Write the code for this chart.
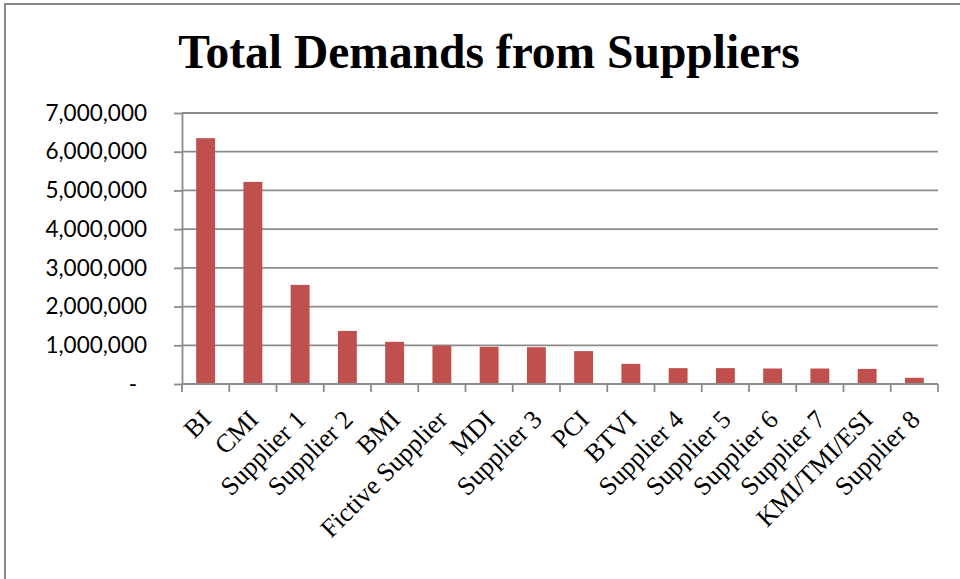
<!DOCTYPE html>
<html>
<head>
<meta charset="utf-8">
<script src="https://cdn.jsdelivr.net/npm/d3@7"></script>
<style>
  body { margin: 0; background: #fff; }
  svg { display: block; }
</style>
</head>
<body>
<div id="chart"></div>
<script>
const width = 960
const height = 579
const margins = { top: 113, right: 22, bottom: 195, left: 182 }

// DATA
const suppliers = [
  "BI", "CMI", "Supplier 1", "Supplier 2", "BMI", "Fictive Supplier", "MDI",
  "Supplier 3", "PCI", "BTVI", "Supplier 4", "Supplier 5", "Supplier 6",
  "Supplier 7", "KMI/TMI/ESI", "Supplier 8"
]
const demands = [
  6350000, 5220000, 2560000, 1370000, 1090000, 990000, 960000,
  950000, 850000, 520000, 410000, 410000, 400000,
  400000, 390000, 160000
]
const yTicks = [0, 1000000, 2000000, 3000000, 4000000, 5000000, 6000000, 7000000]
const titleText = "Total Demands from Suppliers"

const data = suppliers.map((s, i) => ({ name: s, value: demands[i] }))

const svg = d3
  .select("#chart")
  .append("svg")
  .attr("width", width)
  .attr("height", height)

// FRAME
svg.append("line")
  .attr("x1", 5).attr("x2", 5).attr("y1", 4).attr("y2", height)
  .attr("stroke", "#8a8a8a").attr("stroke-width", 2)
svg.append("line")
  .attr("x1", 4).attr("x2", width).attr("y1", 4).attr("y2", 4)
  .attr("stroke", "#8a8a8a").attr("stroke-width", 2)

// TITLE
svg.append("text")
  .attr("x", 489)
  .attr("y", 68)
  .attr("text-anchor", "middle")
  .style("font-family", "'Liberation Serif', 'Times New Roman', serif")
  .style("font-weight", "bold")
  .style("font-size", "47.5px")
  .text(titleText)

// SCALES
const xScale = d3
  .scaleBand()
  .domain(suppliers)
  .range([margins.left, width - margins.right])
  .paddingInner(0.6)
  .paddingOuter(0.3)

const yScale = d3
  .scaleLinear()
  .domain([0, 7000000])
  .range([height - margins.bottom, margins.top])

const axisY = height - margins.bottom

// GRID
svg.append("g")
  .selectAll("line")
  .data(yTicks.filter((d) => d > 0))
  .join("line")
  .attr("x1", margins.left)
  .attr("x2", width - margins.right)
  .attr("y1", (d) => yScale(d))
  .attr("y2", (d) => yScale(d))
  .attr("stroke", "#8c8c8c")
  .attr("stroke-width", 1.8)

// Y AXIS
const yAxisGenerator = d3
  .axisLeft(yScale)
  .tickValues(yTicks)
  .tickSizeInner(8)
  .tickSizeOuter(0)
  .tickPadding(27)
  .tickFormat((d) => (d === 0 ? "-" : d3.format(",")(d)))

const yAxis = svg.append("g")
  .attr("transform", `translate(${margins.left},0)`)
  .call(yAxisGenerator)
yAxis.select(".domain").attr("stroke", "#8c8c8c").attr("stroke-width", 1.8)
yAxis.selectAll(".tick line").attr("stroke", "#8c8c8c").attr("stroke-width", 1.8)
yAxis.selectAll(".tick text")
  .style("font-family", "Lato, 'Open Sans', sans-serif")
  .style("font-size", "22.5px")
  .attr("fill", "#000")
  .attr("dx", (d) => (d === 0 ? -10 : 0))

// BARS
svg.append("g")
  .selectAll("rect")
  .data(data)
  .join("rect")
  .attr("x", (d) => xScale(d.name))
  .attr("width", xScale.bandwidth())
  .attr("y", (d) => yScale(d.value))
  .attr("height", (d) => axisY - yScale(d.value))
  .attr("fill", "#C0504D")

// X AXIS
svg.append("line")
  .attr("x1", margins.left)
  .attr("x2", width - margins.right)
  .attr("y1", axisY)
  .attr("y2", axisY)
  .attr("stroke", "#8c8c8c")
  .attr("stroke-width", 1.8)

const boundaries = d3.range(suppliers.length + 1)
svg.append("g")
  .selectAll("line")
  .data(boundaries)
  .join("line")
  .attr("x1", (i) => margins.left + i * xScale.step())
  .attr("x2", (i) => margins.left + i * xScale.step())
  .attr("y1", axisY)
  .attr("y2", axisY + 8)
  .attr("stroke", "#8c8c8c")
  .attr("stroke-width", 1.8)

svg.append("g")
  .selectAll("text")
  .data(suppliers)
  .join("text")
  .attr("transform", (d) => {
    const cx = xScale(d) + xScale.bandwidth() / 2 + 7
    return `translate(${cx},${axisY + 37}) rotate(-45)`
  })
  .attr("text-anchor", "end")
  .style("font-family", "'Liberation Serif', 'Times New Roman', serif")
  .style("font-size", "26px")
  .text((d) => d)
</script>
</body>
</html>
